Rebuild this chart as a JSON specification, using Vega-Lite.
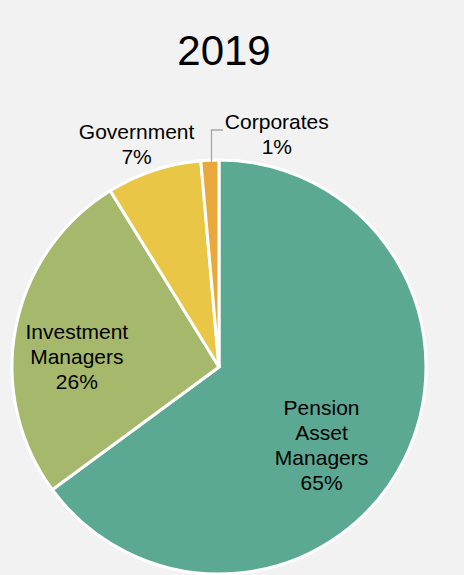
{
  "$schema": "https://vega.github.io/schema/vega-lite/v6.json",
  "width": 438,
  "height": 416,
  "autosize": "none",
  "padding": {"left": 0, "top": 159, "right": 26, "bottom": 0},
  "background": "#f2f2f2",
  "config": {"view": {"stroke": null}},
  "title": {
    "text": "2019",
    "fontSize": 42,
    "font": "Liberation Sans",
    "fontWeight": "normal",
    "color": "#000000",
    "anchor": "middle",
    "frame": "group",
    "offset": 4,
    "baseline": "alphabetic",
    "dx": 5
  },
  "datasets": {
    "shares": [
      {"cat": "Pension Asset Managers", "share": 64.9, "rank": 1, "label": "Pension\nAsset\nManagers\n65%"},
      {"cat": "Investment Managers", "share": 26.3, "rank": 2, "label": "Investment\nManagers\n26%"},
      {"cat": "Government", "share": 7.4, "rank": 3, "label": "Government\n7%"},
      {"cat": "Corporates", "share": 1.4, "rank": 4, "label": "Corporates\n1%"}
    ],
    "leader": [
      {"lx": -0.0362, "ly": 0.99, "step": 1},
      {"lx": -0.0362, "ly": 1.145, "step": 2},
      {"lx": 0.0193, "ly": 1.145, "step": 3}
    ]
  },
  "layer": [
    {
      "data": {"name": "shares"},
      "mark": {"type": "arc", "outerRadius": 207, "stroke": "#ffffff", "strokeWidth": 3},
      "encoding": {
        "theta": {"field": "share", "type": "quantitative", "stack": true},
        "color": {
          "field": "cat",
          "type": "nominal",
          "scale": {
            "domain": ["Pension Asset Managers", "Investment Managers", "Government", "Corporates"],
            "range": ["#5ba893", "#a5b86c", "#e9c646", "#e9a83c"]
          },
          "legend": null
        },
        "order": {"field": "rank", "type": "quantitative"}
      }
    },
    {
      "data": {"name": "shares"},
      "mark": {"type": "text", "radius": 125, "dx": -9, "dy": -14.5, "fontSize": 21, "font": "Liberation Sans", "lineBreak": "\n", "lineHeight": 25, "color": "#000000", "align": "center", "baseline": "middle"},
      "encoding": {
        "theta": {"field": "share", "type": "quantitative", "stack": true},
        "detail": {"field": "cat", "type": "nominal"},
        "order": {"field": "rank", "type": "quantitative"},
        "text": {"condition": {"test": "datum.cat === 'Pension Asset Managers'", "field": "label", "type": "nominal"}, "value": ""}
      }
    },
    {
      "data": {"name": "shares"},
      "mark": {"type": "text", "radius": 155, "dx": 10, "dy": -4, "fontSize": 21, "font": "Liberation Sans", "lineBreak": "\n", "lineHeight": 25, "color": "#000000", "align": "center", "baseline": "middle"},
      "encoding": {
        "theta": {"field": "share", "type": "quantitative", "stack": true},
        "detail": {"field": "cat", "type": "nominal"},
        "order": {"field": "rank", "type": "quantitative"},
        "text": {"condition": {"test": "datum.cat === 'Investment Managers'", "field": "label", "type": "nominal"}, "value": ""}
      }
    },
    {
      "data": {"name": "shares"},
      "mark": {"type": "text", "radius": 233, "dx": -9, "dy": -12.5, "fontSize": 21, "font": "Liberation Sans", "lineBreak": "\n", "lineHeight": 25, "color": "#000000", "align": "center", "baseline": "middle"},
      "encoding": {
        "theta": {"field": "share", "type": "quantitative", "stack": true},
        "detail": {"field": "cat", "type": "nominal"},
        "order": {"field": "rank", "type": "quantitative"},
        "text": {"condition": {"test": "datum.cat === 'Government'", "field": "label", "type": "nominal"}, "value": ""}
      }
    },
    {
      "data": {"name": "shares"},
      "mark": {"type": "text", "radius": 232, "dx": 68, "dy": -12, "fontSize": 21, "font": "Liberation Sans", "lineBreak": "\n", "lineHeight": 25, "color": "#000000", "align": "center", "baseline": "middle"},
      "encoding": {
        "theta": {"field": "share", "type": "quantitative", "stack": true},
        "detail": {"field": "cat", "type": "nominal"},
        "order": {"field": "rank", "type": "quantitative"},
        "text": {"condition": {"test": "datum.cat === 'Corporates'", "field": "label", "type": "nominal"}, "value": ""}
      }
    },
    {
      "data": {"name": "leader"},
      "mark": {"type": "line", "color": "#a6a6a6", "strokeWidth": 1.3, "clip": false},
      "encoding": {
        "x": {"field": "lx", "type": "quantitative", "scale": {"domain": [-1.058, 1.058], "nice": false, "zero": false}, "axis": null},
        "y": {"field": "ly", "type": "quantitative", "scale": {"domain": [-1.0048, 1.0048], "nice": false, "zero": false}, "axis": null},
        "order": {"field": "step", "type": "quantitative"}
      }
    }
  ]
}
